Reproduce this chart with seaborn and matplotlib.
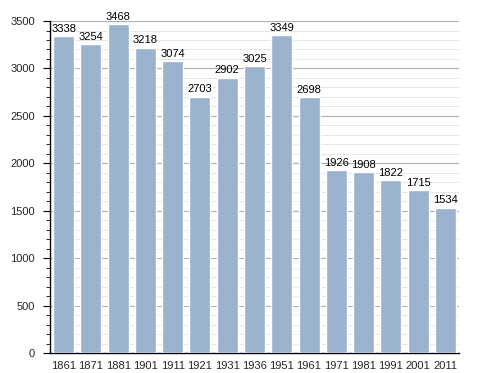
import matplotlib
matplotlib.use("Agg")
import matplotlib.pyplot as plt
import seaborn as sns
import pandas as pd
from matplotlib.ticker import MultipleLocator

years = ["1861", "1871", "1881", "1901", "1911", "1921", "1931", "1936",
         "1951", "1961", "1971", "1981", "1991", "2001", "2011"]
population = [3338, 3254, 3468, 3218, 3074, 2703, 2902, 3025,
              3349, 2698, 1926, 1908, 1822, 1715, 1534]

df = pd.DataFrame({"year": years, "pop": population})

sns.set_style("white")
plt.rcParams["font.family"] = ["Liberation Sans", "DejaVu Sans"]

fig = plt.figure(figsize=(4.88, 3.73), dpi=100)
ax = fig.add_axes([0.1025, 0.0536, 0.838, 0.89])

sns.barplot(data=df, x="year", y="pop", color="#9bb3cf", saturation=1,
            width=0.77, ax=ax, zorder=3)

ax.set_ylim(0, 3500)
ax.set_xlim(-0.5, len(years) - 0.5)
ax.yaxis.set_major_locator(MultipleLocator(500))
ax.yaxis.set_minor_locator(MultipleLocator(100))
ax.grid(which="major", axis="y", color="#b0b0b0", linewidth=0.8, zorder=0)
ax.grid(which="minor", axis="y", color="#e6e6e6", linewidth=0.7, zorder=0)
ax.set_axisbelow(True)

for s in ["top", "right"]:
    ax.spines[s].set_visible(False)
for s in ["left", "bottom"]:
    ax.spines[s].set_color("black")
    ax.spines[s].set_linewidth(1.0)

ax.tick_params(axis="y", which="major", left=True, length=5, width=0.8,
               labelsize=8, pad=6, color="black")
ax.tick_params(axis="y", which="minor", left=True, length=3, width=0.6,
               color="black")
ax.tick_params(axis="x", bottom=False, labelsize=8, pad=2)
ax.set_xlabel("")
ax.set_ylabel("")

for i, v in enumerate(population):
    ax.text(i, v + 25, str(v), ha="center", va="bottom", fontsize=8,
            color="black", zorder=5)

fig.savefig("out.png", dpi=100)
